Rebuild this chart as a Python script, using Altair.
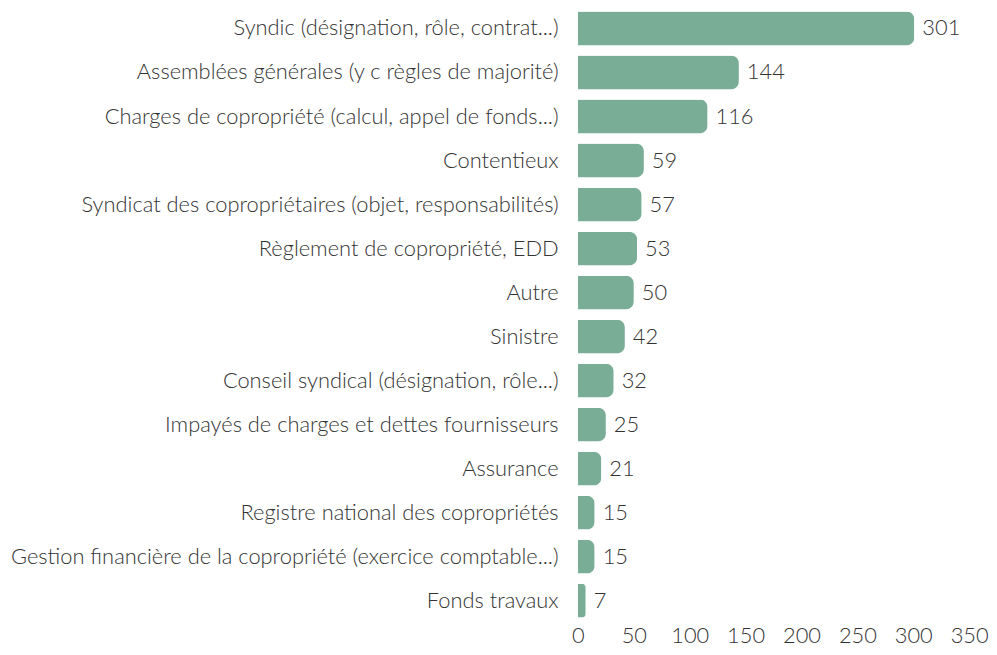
import altair as alt
import pandas as pd

categories = [
    "Syndic (désignation, rôle, contrat...)",
    "Assemblées générales (y c règles de majorité)",
    "Charges de copropriété (calcul, appel de fonds...)",
    "Contentieux",
    "Syndicat des copropriétaires (objet, responsabilités)",
    "Règlement de copropriété, EDD",
    "Autre",
    "Sinistre",
    "Conseil syndical (désignation, rôle...)",
    "Impayés de charges et dettes fournisseurs",
    "Assurance",
    "Registre national des copropriétés",
    "Gestion financière de la copropriété (exercice comptable...)",
    "Fonds travaux",
]
values = [301, 144, 116, 59, 57, 53, 50, 42, 32, 25, 21, 15, 15, 7]
x_ticks = [0, 50, 100, 150, 200, 250, 300, 350]

df = pd.DataFrame({"cat": categories, "val": values})

FONT = "Lato"
TEXT = "#333333"
BAR = "#79ad96"
FS = 22

base = alt.Chart(df).encode(
    y=alt.Y("cat:N", sort=categories, title=None,
            scale=alt.Scale(paddingInner=0.23, paddingOuter=0.03),
            axis=alt.Axis(ticks=False, domain=False, grid=False, labelPadding=20,
                          labelLimit=800, labelFontSize=FS, labelFont=FONT,
                          labelFontWeight=300, labelColor=TEXT)),
)

bars = base.mark_bar(color=BAR, cornerRadiusEnd=8).encode(
    x=alt.X("val:Q", title=None,
            scale=alt.Scale(domain=[0, 350], nice=False),
            axis=alt.Axis(values=x_ticks, ticks=False, domain=False, grid=False,
                          labelFlush=False, labelPadding=7, labelFontSize=FS,
                          labelFont=FONT, labelFontWeight=300, labelColor=TEXT)),
)

labels = base.mark_text(align="left", baseline="middle", dx=8, fontSize=FS,
                        font=FONT, fontWeight=300, color=TEXT).encode(
    x="val:Q",
    text="val:Q",
)

chart = (bars + labels).properties(
    width=394, height=613,
    background="white",
    padding={"left": 2, "top": 0, "right": 0, "bottom": 0},
).configure_view(strokeWidth=0, stroke=None)

chart.save("out.html", embed_options={"renderer": "svg", "actions": False})
